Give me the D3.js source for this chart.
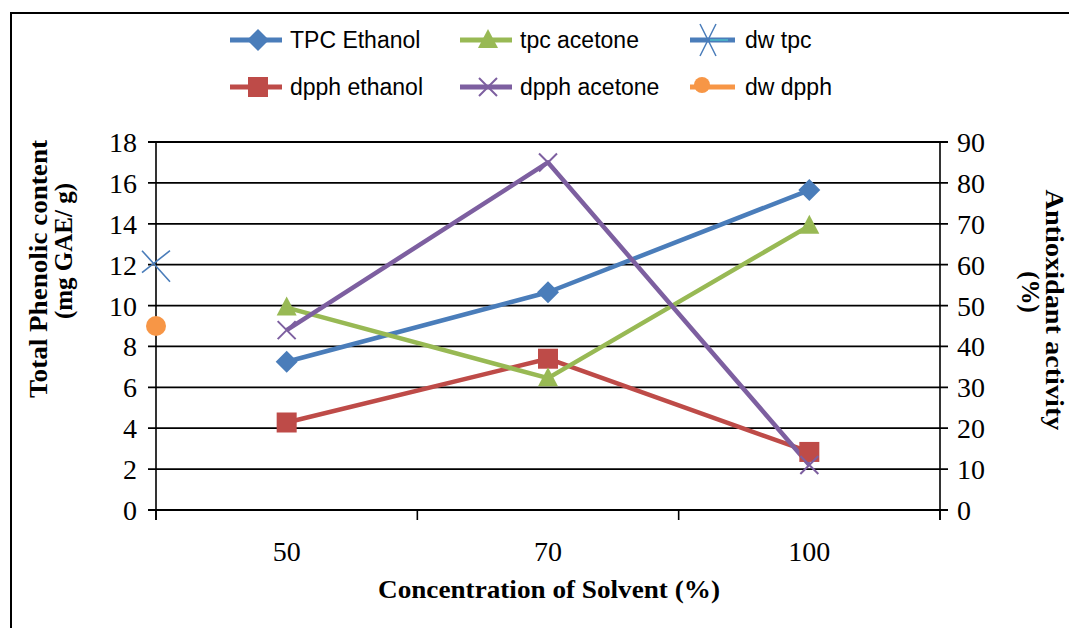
<!DOCTYPE html>
<html><head><meta charset="utf-8">
<script src="https://cdn.jsdelivr.net/npm/d3@7"></script>
<style>html,body{margin:0;padding:0;background:#fff;}svg{display:block;}</style>
</head><body>
<svg id="c" width="1069" height="628"></svg>
<script>
// ---- data ----
const categories = ["50", "70", "100"];
const tpcEthanol = [7.25, 10.65, 15.65];   // left axis
const tpcAcetone = [9.9, 6.45, 13.9];      // left axis
const dpphEthanol = [21.4, 37.0, 14.2];    // right axis (%)
const dpphAcetone = [44.0, 85.0, 11.0];    // right axis (%)
const dwTpc = 12;     // left axis, plotted at the axis origin
const dwDpph = 45;    // right axis, plotted at the axis origin
const leftTicks = [0,2,4,6,8,10,12,14,16,18];
const rightTicks = [0,10,20,30,40,50,60,70,80,90];

const svg = d3.select("#c");
const L = 156, R = 940, T = 142, B = 510;
const x = d3.scaleBand().domain(categories).range([L, R]).padding(0);
const y1 = d3.scaleLinear().domain([0, 18]).range([B, T]);
const y2 = d3.scaleLinear().domain([0, 90]).range([B, T]);
const cx = c => x(c) + x.bandwidth() / 2;

// outer frame
svg.append("rect").attr("x", 11).attr("y", 13).attr("width", 1100).attr("height", 700)
  .attr("fill", "none").attr("stroke", "#000").attr("stroke-width", 2);

// gridlines
svg.append("g").selectAll("line").data(leftTicks).join("line")
  .attr("x1", L - 8).attr("x2", R + 8)
  .attr("y1", d => y1(d)).attr("y2", d => y1(d))
  .attr("stroke", "#000").attr("stroke-width", d => d === 0 ? 2.2 : 1.8);

// axes lines
svg.append("line").attr("x1", L).attr("x2", L).attr("y1", T).attr("y2", B + 10).attr("stroke", "#000").attr("stroke-width", 1.6);
svg.append("line").attr("x1", R).attr("x2", R).attr("y1", T).attr("y2", B + 10).attr("stroke", "#000").attr("stroke-width", 1.6);
// x category ticks
const bounds = [L, ...categories.slice(1).map(c => x(c)), R];
svg.append("g").selectAll("line").data(bounds).join("line")
  .attr("x1", d => d).attr("x2", d => d).attr("y1", B).attr("y2", B + 10)
  .attr("stroke", "#000").attr("stroke-width", 1.6);

const serif = "'Liberation Serif','Times New Roman',serif";
const sans = "'Liberation Sans',Arial,sans-serif";

// tick labels
svg.append("g").selectAll("text").data(leftTicks).join("text")
  .attr("x", 137).attr("y", d => y1(d) + 10).attr("text-anchor", "end")
  .attr("font-family", serif).attr("font-size", 28).text(d => d);
svg.append("g").selectAll("text").data(rightTicks).join("text")
  .attr("x", 957).attr("y", d => y2(d) + 10).attr("text-anchor", "start")
  .attr("font-family", serif).attr("font-size", 28).text(d => d);
svg.append("g").selectAll("text").data(categories).join("text")
  .attr("x", d => cx(d)).attr("y", 561).attr("text-anchor", "middle")
  .attr("font-family", serif).attr("font-size", 28).text(d => d);

// axis titles
svg.append("text").attr("x", 549).attr("y", 598).attr("text-anchor", "middle")
  .attr("font-family", serif).attr("font-weight", "bold").attr("font-size", 25)
  .attr("textLength", 342).attr("lengthAdjust", "spacingAndGlyphs")
  .text("Concentration  of Solvent (%)");
svg.append("text").attr("transform", "translate(47,269) rotate(-90)").attr("text-anchor", "middle")
  .attr("font-family", serif).attr("font-weight", "bold").attr("font-size", 25)
  .attr("textLength", 258).attr("lengthAdjust", "spacingAndGlyphs")
  .text("Total  Phenolic content");
svg.append("text").attr("transform", "translate(72,251) rotate(-90)").attr("text-anchor", "middle")
  .attr("font-family", serif).attr("font-weight", "bold").attr("font-size", 25)
  .text("(mg GAE/  g)");
svg.append("text").attr("transform", "translate(1046,310) rotate(90)").attr("text-anchor", "middle")
  .attr("font-family", serif).attr("font-weight", "bold").attr("font-size", 25)
  .attr("textLength", 241).attr("lengthAdjust", "spacingAndGlyphs")
  .text("Antioxidant  activity");
svg.append("text").attr("transform", "translate(1022,292) rotate(90)").attr("text-anchor", "middle")
  .attr("font-family", serif).attr("font-weight", "bold").attr("font-size", 25)
  .text("(%)");

// markers
function marker(g, type, px, py, color) {
  if (type === "diamond") {
    const s = 11;
    g.append("path").attr("d", `M${px},${py - s}L${px + s},${py}L${px},${py + s}L${px - s},${py}Z`).attr("fill", color);
  } else if (type === "square") {
    g.append("rect").attr("x", px - 10).attr("y", py - 10).attr("width", 20).attr("height", 20).attr("fill", color);
  } else if (type === "triangle") {
    g.append("path").attr("d", `M${px},${py - 11}L${px + 10},${py + 8}L${px - 10},${py + 8}Z`).attr("fill", color);
  } else if (type === "x") {
    const s = 9;
    g.append("path").attr("d", `M${px - s},${py - s}L${px + s},${py + s}M${px - s},${py + s}L${px + s},${py - s}`)
      .attr("stroke", color).attr("stroke-width", 2).attr("fill", "none");
  } else if (type === "bigx") {
    g.append("path").attr("d", `M${px - 14},${py - 14}L${px + 14},${py + 17}M${px - 14},${py + 8}L${px + 14},${py - 14}`)
      .attr("stroke", color).attr("stroke-width", 1.6).attr("fill", "none");
  } else if (type === "circle") {
    g.append("circle").attr("cx", px).attr("cy", py).attr("r", 10).attr("fill", color);
  }
}

const series = [
  { name: "TPC Ethanol", vals: tpcEthanol, y: y1, color: "#4A7DBA", m: "diamond" },
  { name: "dpph ethanol", vals: dpphEthanol, y: y2, color: "#BE4B48", m: "square" },
  { name: "tpc acetone", vals: tpcAcetone, y: y1, color: "#98B954", m: "triangle" },
  { name: "dpph acetone", vals: dpphAcetone, y: y2, color: "#7D5FA0", m: "x" },
];
const plot = svg.append("g");
series.forEach(s => {
  const line = d3.line().x((d, i) => cx(categories[i])).y(d => s.y(d));
  plot.append("path").attr("d", line(s.vals)).attr("fill", "none")
    .attr("stroke", s.color).attr("stroke-width", 4.5).attr("stroke-linejoin", "round");
});
series.forEach(s => {
  s.vals.forEach((v, i) => marker(plot, s.m, cx(categories[i]), s.y(v), s.color));
});
// dw points at the origin
marker(plot, "bigx", L, y1(dwTpc), "#4A7DBA");
marker(plot, "circle", L, y2(dwDpph), "#F79646");

// legend
const leg = svg.append("g");
const legItems = [
  { name: "TPC Ethanol", color: "#4A7DBA", m: "diamond", lx: 230, ly: 40 },
  { name: "tpc acetone", color: "#98B954", m: "triangle", lx: 460, ly: 40 },
  { name: "dw tpc", color: "#4A7DBA", m: "dwx", lx: 690, ly: 40 },
  { name: "dpph ethanol", color: "#BE4B48", m: "square", lx: 230, ly: 87 },
  { name: "dpph acetone", color: "#7D5FA0", m: "x", lx: 460, ly: 87 },
  { name: "dw dpph", color: "#F79646", m: "circle", lx: 690, ly: 87 },
];
legItems.forEach(d => {
  const isDw = d.m === "dwx" || d.m === "circle";
  const x0 = d.lx, x1 = isDw ? d.lx + 45 : d.lx + 52;
  leg.append("line").attr("x1", x0).attr("x2", x1).attr("y1", d.ly).attr("y2", d.ly)
    .attr("stroke", d.color).attr("stroke-width", 5);
  if (d.m === "dwx") {
    leg.append("line").attr("x1", x0 + 20).attr("x2", x0 + 38).attr("y1", d.ly).attr("y2", d.ly)
      .attr("stroke", "#4BACC6").attr("stroke-width", 2);
    leg.append("path").attr("d", `M${x0 + 10},${d.ly - 16}L${x0 + 26},${d.ly + 16}M${x0 + 10},${d.ly + 16}L${x0 + 26},${d.ly - 16}`)
      .attr("stroke", d.color).attr("stroke-width", 1.5).attr("fill", "none");
  } else if (d.m === "circle") {
    leg.append("circle").attr("cx", x0 + 12).attr("cy", d.ly - 2).attr("r", 8).attr("fill", d.color);
  } else {
    marker(leg, d.m, d.lx + 28, d.ly, d.color);
  }
  leg.append("text").attr("x", isDw ? d.lx + 55 : d.lx + 60).attr("y", d.ly + 8)
    .attr("font-family", sans).attr("font-size", 23).text(d.name);
});
</script>
</body></html>
